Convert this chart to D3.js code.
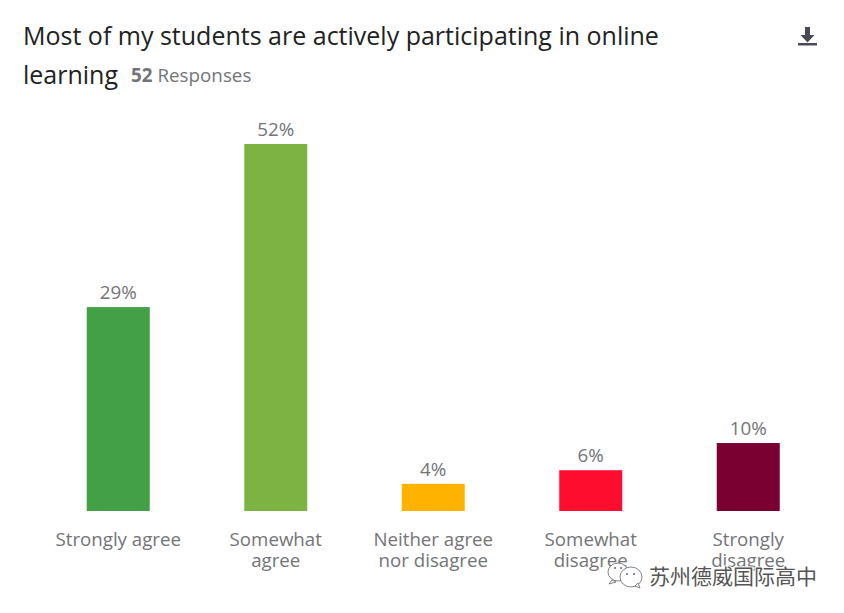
<!DOCTYPE html>
<html><head><meta charset="utf-8">
<script src="https://cdnjs.cloudflare.com/ajax/libs/d3/7.8.5/d3.min.js"></script>
<style>html,body{margin:0;padding:0;background:#fff}svg{display:block}text{font-family:"Open Sans",sans-serif}</style>
</head><body><svg id="c" width="844" height="613"></svg>
<script>
const categories = [["Strongly agree"],["Somewhat","agree"],["Neither agree","nor disagree"],["Somewhat","disagree"],["Strongly","disagree"]];
const responses = [15,27,2,3,5];
const totalResponses = 52;
const barColors = ["#43a047","#7cb342","#ffb300","#ff0d2e","#7b0032"];
const titleLines = ["Most of my students are actively participating in online","learning"];
const responseLabel = "Responses";
const watermark = "苏州德威国际高中";

const svg = d3.select("#c");
const pct = responses.map(r => r/totalResponses*100);
const x = d3.scaleBand().domain(d3.range(categories.length)).range([39.5,827]).paddingInner(0.6).paddingOuter(0.3);
const y = d3.scaleLinear().domain([0,51.92]).range([511,144]);

svg.selectAll("rect.bar").data(pct).join("rect").attr("class","bar")
  .attr("x",(d,i)=>x(i)).attr("width",x.bandwidth())
  .attr("y",d=>y(d)).attr("height",d=>y(0)-y(d))
  .attr("fill",(d,i)=>barColors[i]);

svg.selectAll("text.val").data(pct).join("text").attr("class","val")
  .attr("x",(d,i)=>x(i)+x.bandwidth()/2).attr("y",d=>y(d)-8)
  .attr("text-anchor","middle").attr("font-size",18.8).attr("fill","#737477")
  .text(d=>d3.format(".0f")(d)+"%");

categories.forEach((lines,i)=>{
  const t = svg.append("text").attr("text-anchor","middle").attr("font-size",18.7).attr("fill","#737477");
  lines.forEach((l,j)=>t.append("tspan").attr("x",x(i)+x.bandwidth()/2).attr("y",546+j*21).text(l));
});

titleLines.forEach((l,j)=>svg.append("text").attr("x",23).attr("y",[44.5,84][j])
  .attr("font-size",25).attr("fill","#222").text(l));
const sub = svg.append("text").attr("x",131).attr("y",82).attr("font-size",18.8).attr("fill","#737477");
sub.append("tspan").attr("font-weight",700).text(totalResponses);
sub.append("tspan").attr("dx",5).text(responseLabel);

// download icon
const ic = svg.append("g").attr("fill","#4a4a55");
ic.append("path").attr("d","M805 27h5v8h4.5l-7 7.5-7-7.5h4.5z");
ic.append("rect").attr("x",798).attr("y",43).attr("width",19).attr("height",2.5);

// watermark
const wm = svg.append("g").attr("fill","#fff").attr("stroke","#666").attr("stroke-width",0.8);
wm.append("ellipse").attr("cx",618).attr("cy",572).attr("rx",10).attr("ry",9);
wm.append("path").attr("d","M612 580l-3 4 7-2z");
wm.append("ellipse").attr("cx",631).attr("cy",577).attr("rx",11).attr("ry",10);
wm.append("path").attr("d","M635 586l5 2-2-5z");
const eyes = [[615,568],[621,568],[627,574],[634,574]];
svg.selectAll("circle.eye").data(eyes).join("circle").attr("class","eye")
  .attr("cx",d=>d[0]).attr("cy",d=>d[1]).attr("r",1).attr("fill","#666");
svg.append("text").attr("x",649).attr("y",584).attr("font-size",21)
  .style("font-family",'"Noto Sans CJK SC"').attr("fill","#555")
  .attr("stroke","#fff").attr("stroke-width",2).attr("paint-order","stroke")
  .text(watermark);
</script></body></html>
